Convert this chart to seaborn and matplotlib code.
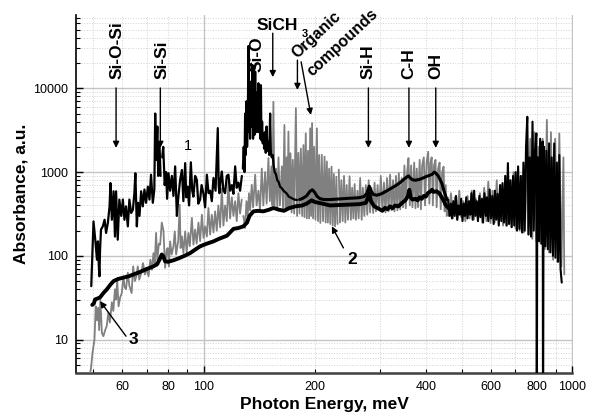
import numpy as np
import pandas as pd
import matplotlib
matplotlib.use("Agg")
import matplotlib.pyplot as plt
import matplotlib.ticker as mticker
import seaborn as sns

# ---------------- data (photon energy meV, absorbance a.u.) ----------------
# curve 1 (thin black, noisy)
black_low = [(49.5, 43.5), (50.2, 258), (50.8, 149), (51.3, 90), (51.6, 149), (51.9, 75), (52.1, 57),
             (52.3, 119), (52.6, 206), (53.2, 225), (53.8, 270), (54.3, 188), (54.9, 247), (55.5, 390),
             (55.8, 740), (56.3, 270), (56.9, 590), (57.4, 170), (57.8, 590), (58.4, 156), (59.0, 470),
             (59.7, 300), (60.3, 470), (60.9, 270), (61.5, 390), (62.2, 225), (62.8, 470), (63.5, 325),
             (64.2, 356), (64.8, 560), (65.2, 970), (65.8, 225), (66.3, 430), (66.9, 300), (67.6, 590),
             (68.3, 390), (69.0, 620), (69.7, 430), (70.5, 670), (71.2, 470), (71.9, 930), (72.7, 430),
             (73.4, 620), (73.8, 5000), (74.2, 1400), (74.8, 3500), (75.2, 900), (75.8, 2200), (76.3, 900)]
black_mid = [(77.1, 1500), (77.6, 2000), (78.3, 700), (79.0, 1000), (79.5, 480), (80.2, 970), (81.0, 600),
             (81.9, 900), (82.7, 520), (83.6, 1170), (84.5, 300), (85.3, 510), (86.2, 800), (87.2, 1060),
             (88.0, 450), (89.0, 1280), (89.6, 500), (90.3, 670), (91.2, 400), (92.2, 1310), (93.0, 600),
             (93.7, 510), (94.7, 900), (95.7, 810), (96.6, 420), (97.7, 470), (98.6, 700), (99.7, 560),
             (100.8, 380), (101.9, 930), (103.0, 560), (104.0, 600), (105.1, 450), (106.2, 850),
             (107.6, 600), (109.1, 3350), (109.7, 700), (110.2, 560), (111.0, 800), (111.9, 1015),
             (113.0, 600), (114.2, 560), (115.4, 900), (116.6, 930), (117.8, 600), (119.1, 700),
             (120.3, 550), (121.6, 1170), (122.8, 650), (124.1, 750), (125.4, 600), (126.8, 900)]
black_sio = [(127.6, 1100), (128.3, 2000), (128.9, 1000), (129.4, 5000), (129.9, 1600), (130.5, 7000),
             (131.0, 2000), (131.6, 4000), (132.1, 32000), (132.6, 3000), (133.0, 9000), (133.5, 2500),
             (134.1, 12000), (134.6, 3500), (135.0, 6000), (135.5, 19000), (136.0, 2500), (136.5, 5000),
             (136.9, 7300), (137.3, 2800), (137.8, 15800), (138.3, 3500), (138.8, 6000), (139.2, 3000),
             (139.7, 9000), (140.2, 4000), (140.6, 11500), (141.1, 3000), (141.6, 5500), (142.2, 2500),
             (142.8, 10900), (143.3, 2400), (143.9, 4000), (144.5, 2200), (145.1, 2900), (145.8, 1900),
             (146.5, 3000), (147.2, 1700), (148.0, 3500), (148.7, 1800), (149.5, 2300), (150.4, 1600),
             (151.3, 5000), (152.0, 1700), (152.8, 1500), (153.7, 1600), (154.6, 1200), (155.6, 1000),
             (156.8, 950), (158.2, 800), (159.6, 760), (161.0, 670), (162.8, 640), (165.0, 590),
             (167.5, 560), (170.0, 510), (173.0, 490), (176.0, 470), (179.0, 465)]
black_band = [(182, 470), (186, 490), (190, 520), (194, 590), (197, 615), (200, 570), (203, 510), (207, 480),
              (212, 470), (220, 470), (228, 475), (236, 480), (245, 485), (255, 490), (264, 495), (272, 510),
              (277, 560), (281, 680), (284, 600), (288, 540), (295, 530), (303, 550), (312, 590), (320, 630),
              (328, 670), (334, 705), (342, 760), (350, 830), (356, 880), (359, 900), (363, 850), (368, 810),
              (375, 800), (385, 820), (393, 850), (400, 880), (408, 910), (416, 940), (422, 1000), (426, 970),
              (432, 900), (437, 820), (442, 740), (447, 620), (452, 530), (456, 470)]
black_high = [(460, 470), (464, 300), (468, 420), (471, 280), (475, 450), (479, 300), (483, 520), (487, 270),
              (491, 400), (495, 310), (499, 480), (503, 260), (507, 420), (511, 300), (515, 500), (519, 280),
              (524, 450), (528, 310), (532, 560), (536, 270), (541, 600), (545, 300), (550, 450), (554, 260),
              (559, 520), (563, 290), (568, 480), (572, 250), (577, 560), (582, 300), (586, 500), (591, 260),
              (596, 620), (601, 280), (606, 520), (611, 240), (616, 600), (621, 270), (626, 550), (631, 230),
              (636, 700), (641, 260), (646, 740), (652, 250), (657, 900), (662, 230), (668, 1280), (673, 240),
              (679, 800), (684, 220), (690, 900), (695, 230), (701, 1000), (707, 200), (712, 1170), (718, 210),
              (724, 900), (730, 190), (736, 1300), (742, 200), (748, 2000), (754, 4570), (760, 180),
              (766, 1500), (772, 170), (779, 4000), (785, 200), (791, 1800), (798, 2900), (800, 0.3),
              (802, 160), (806, 1500), (811, 150), (817, 2500), (824, 140), (830, 2320), (832, 0.3),
              (834, 150), (837, 2000), (844, 130), (850, 1800), (857, 120), (864, 2200), (871, 110),
              (878, 1500), (885, 100), (892, 2200), (899, 95), (907, 1300), (914, 85), (921, 1600),
              (928, 70), (935, 48)]

# curve 2 (grey, noisy)
grey_low = [(48.5, 3.0), (49.4, 4.5), (49.9, 7.0), (50.5, 10), (50.9, 25), (51.3, 17), (51.7, 24), (52.0, 13),
            (52.4, 30), (52.9, 12), (53.4, 11), (54.0, 13), (54.5, 14.5), (55.1, 21), (55.6, 16), (56.3, 28),
            (56.8, 22), (57.4, 40), (57.8, 30), (58.2, 52), (58.7, 25), (59.3, 32), (59.9, 36), (60.5, 57),
            (61.0, 42), (61.5, 40), (62.2, 63), (62.8, 44), (63.7, 36), (64.3, 75), (65.0, 50), (65.6, 57),
            (66.2, 75), (66.8, 52), (67.6, 62), (68.4, 82), (69.2, 60), (70.0, 70), (70.8, 57), (71.6, 90),
            (72.3, 68), (73.0, 108), (73.6, 80), (74.2, 188), (74.8, 90), (75.5, 140), (76.1, 136),
            (76.9, 250), (77.7, 200), (78.5, 72), (79.3, 119), (79.8, 124), (80.4, 75), (81.0, 149),
            (81.8, 104), (82.7, 130), (83.4, 196), (84.1, 104), (85.2, 150), (86.0, 408), (86.5, 124),
            (87.2, 171), (88.0, 108), (89.0, 196), (89.8, 110), (90.8, 188), (91.6, 130), (92.8, 284),
            (93.7, 136), (94.7, 206), (95.6, 140), (96.7, 250), (97.7, 150), (98.8, 310), (99.8, 164),
            (100.8, 225), (101.9, 170), (102.9, 373), (104.0, 180), (105.1, 310), (106.2, 190),
            (107.3, 340), (108.4, 200), (109.5, 400), (110.7, 220), (111.9, 645), (113.0, 230),
            (114.2, 400), (115.4, 260), (116.6, 770), (117.8, 280), (119.1, 500), (120.3, 300),
            (121.6, 450), (122.8, 260), (124.1, 560), (125.4, 320), (126.7, 470)]
grey_org = [(128.0, 300), (129.4, 215), (130.5, 450), (131.5, 300), (132.6, 560), (133.5, 350), (134.9, 705),
            (136.0, 380), (137.8, 930), (139.0, 400), (140.6, 600), (142.0, 350), (143.6, 1100), (145.0, 400),
            (146.6, 1000), (148.0, 420), (149.7, 1470), (151.0, 450), (152.5, 1170), (153.5, 400),
            (154.4, 6900), (155.5, 400), (157.0, 1100), (158.2, 380), (159.4, 1500), (160.8, 400),
            (162.8, 1170), (164.0, 360), (165.4, 3650), (166.5, 380), (167.8, 1500), (168.6, 350),
            (169.6, 3050), (170.6, 380), (171.8, 1680), (173.0, 330), (174.3, 1400), (175.8, 320),
            (177.7, 5800), (179.0, 300), (180.5, 1700), (181.8, 320), (183.3, 1900), (184.8, 300),
            (186.3, 2100), (187.5, 290), (189.0, 2900), (190.3, 280), (191.7, 1800), (193.0, 280),
            (194.3, 3330), (195.4, 300), (196.6, 3850), (197.8, 280), (199.2, 2000), (200.8, 270),
            (202.6, 3330), (204.0, 260), (205.5, 1600), (207.0, 247), (208.9, 1610), (210.5, 260),
            (212.5, 1530), (214.0, 250), (215.6, 1340), (217.0, 250), (218.7, 1100), (220.3, 240),
            (222.0, 1160), (223.7, 230), (225.3, 950), (227.0, 225), (228.8, 880), (230.5, 240)]
grey_band = [(232.3, 1070), (234, 250), (236, 800), (238, 260), (240, 900), (242, 250), (244, 700), (246, 270),
             (248.5, 890), (250.5, 270), (252.5, 650), (254.5, 280), (256.5, 720), (258.5, 270), (261, 600),
             (263, 280), (265.5, 850), (268, 270), (270, 650), (272.5, 300), (275, 700), (277.5, 310),
             (280, 800), (282.5, 330), (285, 650), (288, 325), (290.5, 750), (293, 340), (296, 700),
             (299, 350), (302, 900), (305, 340), (308, 750), (311, 330), (314, 850), (317, 340), (320, 930),
             (323, 350), (326, 800), (329, 340), (332, 900), (335, 350), (338, 970), (341, 360), (344, 850),
             (347, 380), (350, 1200), (353, 370), (356, 1000), (359, 1470), (362, 400), (365, 1200),
             (368, 380), (372, 1300), (375, 370), (378, 1100), (381, 380), (385, 1400), (388, 360),
             (391, 1200), (395, 1500), (398, 400), (402, 1300), (406, 1750), (409, 420), (412, 1300),
             (415, 1500), (418, 400), (421, 1200), (425, 1400), (428, 380), (432, 1100), (436, 1300),
             (439, 360), (443, 1000), (447, 1160), (450, 340), (453, 700), (456, 300), (459, 500)]
grey_high = [(462, 300), (468, 560), (474, 280), (480, 500), (486, 270), (493, 600), (499, 290), (506, 450),
             (512, 260), (519, 520), (526, 280), (533, 600), (540, 270), (547, 480), (554, 260), (561, 560),
             (569, 250), (576, 650), (584, 260), (591, 770), (599, 247), (607, 600), (615, 250), (623, 800),
             (631, 240), (640, 700), (648, 230), (657, 900), (665, 230), (674, 800), (683, 220), (692, 1000),
             (701, 210), (710, 1060), (719, 200), (729, 900), (738, 190), (748, 1500), (758, 180),
             (768, 2500), (778, 160), (788, 3000), (798, 150), (809, 2000), (819, 140), (830, 2500),
             (841, 120), (852, 4200), (863, 110), (874, 3000), (886, 90), (897, 2500), (909, 85),
             (921, 2900), (933, 75), (945, 1500), (950, 60)]

# curve 3 (thick black, smooth)
smooth_3 = [(49.8, 26), (50.3, 27), (50.7, 30.2), (51.5, 31), (52.3, 32), (53.4, 36), (54.6, 40), (55.7, 45),
            (56.9, 50), (58.5, 53), (60.5, 55), (62.5, 57), (64.4, 60), (67.0, 64), (70.1, 70), (72.5, 74),
            (74.6, 79), (75.8, 90), (76.9, 104), (77.7, 98), (78.5, 86), (80.0, 85), (83.0, 89), (86.2, 95),
            (89.0, 101), (91.8, 108), (94.5, 118), (97.7, 130), (101.0, 138), (106.2, 149), (110.0, 160),
            (115.5, 174), (118.0, 192), (120.3, 210), (124.0, 215), (128.0, 225), (131.0, 250), (133.0, 300),
            (136.3, 340), (140.0, 345), (145.0, 340), (150.0, 355), (154.5, 373), (160.0, 355), (165.0, 345),
            (170.0, 370), (177.0, 390), (185.0, 400), (190.0, 420), (196.0, 460), (200.0, 440), (210.0, 420),
            (220.0, 400), (235.0, 405), (250.0, 410), (265.0, 415), (275.0, 430), (279.0, 500), (281.0, 560),
            (284.0, 450), (290.0, 390), (300.0, 360), (305.0, 345), (310.0, 375), (315.0, 360), (320.0, 390),
            (325.0, 370), (330.0, 400), (337.0, 390), (345.0, 430), (352.0, 460), (358.0, 520), (361.0, 615),
            (364.0, 500), (368.0, 470), (375.0, 480), (380.0, 460), (385.0, 500), (390.0, 480), (395.0, 520),
            (400.0, 510), (405.0, 560), (412.0, 590), (416.0, 615), (420.0, 580), (428.0, 590), (435.0, 560),
            (442.0, 500), (447.0, 460), (452.0, 410), (456.0, 390), (465.0, 360), (475.0, 350)]

x_major_labels = [100, 1000]
x_minor_labels = [60, 80, 200, 400, 600, 800]


def frame(pairs):
    return pd.DataFrame(pairs, columns=["energy", "absorbance"])


# ---------------- figure ----------------
sns.set_theme(style="ticks")
plt.rcParams["font.family"] = ["Liberation Sans", "DejaVu Sans"]
plt.rcParams["text.color"] = "black"
plt.rcParams["axes.labelcolor"] = "black"
plt.rcParams["xtick.color"] = "black"
plt.rcParams["ytick.color"] = "black"

fig = plt.figure(figsize=(5.92, 4.20), dpi=100)
ax = fig.add_axes([76 / 592, 1 - 373 / 420, (572.5 - 76) / 592, (373 - 15) / 420])
ax.set_xscale("log")
ax.set_yscale("log")

GREY = "#808080"
for seg in (grey_low, grey_org, grey_band, grey_high):
    sns.lineplot(data=frame(seg), x="energy", y="absorbance", sort=False, estimator=None,
                 color=GREY, lw=1.3, ax=ax, zorder=3)
for seg, w in ((black_low, 1.6), (black_mid, 1.6), (black_sio, 1.6), (black_band, 2.2), (black_high, 1.5)):
    sns.lineplot(data=frame(seg), x="energy", y="absorbance", sort=False, estimator=None,
                 color="black", lw=w, ax=ax, zorder=4)
sns.lineplot(data=frame(smooth_3), x="energy", y="absorbance", sort=False, estimator=None,
             color="black", lw=2.8, ax=ax, zorder=5)

ax.set_xlim(45, 1000)
ax.set_ylim(4, 75000)

# ticks & grid
ax.xaxis.set_major_locator(mticker.LogLocator(base=10))
ax.xaxis.set_minor_locator(mticker.LogLocator(base=10, subs=np.arange(2, 10)))
ax.xaxis.set_major_formatter(mticker.FuncFormatter(
    lambda v, p: str(int(round(v))) if int(round(v)) in x_major_labels else ""))
ax.xaxis.set_minor_formatter(mticker.FuncFormatter(
    lambda v, p: str(int(round(v))) if int(round(v)) in x_minor_labels else ""))
ax.yaxis.set_major_locator(mticker.LogLocator(base=10))
ax.yaxis.set_minor_locator(mticker.LogLocator(base=10, subs=np.arange(2, 10)))
ax.yaxis.set_major_formatter(mticker.FuncFormatter(lambda v, p: str(int(round(v)))))
ax.yaxis.set_minor_formatter(mticker.NullFormatter())

ax.tick_params(which="both", direction="in", labelsize=9, colors="black", pad=6)
ax.tick_params(which="major", length=5, width=1)
ax.tick_params(which="minor", length=3, width=0.8)
ax.grid(which="major", color="#c4c4c4", lw=1.0, ls="-", zorder=0)
ax.grid(which="minor", color="#d2d2d2", lw=0.7, ls=":", zorder=0)

for s in ("top", "right"):
    ax.spines[s].set_visible(False)
ax.spines["left"].set_color("black")
ax.spines["left"].set_linewidth(1.2)
ax.spines["bottom"].set_color("#404040")
ax.spines["bottom"].set_linewidth(1.8)

ax.set_xlabel("Photon Energy, meV", fontsize=12.5, fontweight="bold", labelpad=3, color="black")
ax.set_ylabel("Absorbance, a.u.", fontsize=12.5, fontweight="bold", labelpad=3, color="black")

# ---------------- annotations ----------------
arrow = dict(arrowstyle="-|>", lw=1.0, color="black", mutation_scale=9, shrinkA=0, shrinkB=0)
FS = 12.5

for lab, ex_t, ex_a in [("Si-O-Si", 58.1, 57.8), ("Si-Si", 77.2, 76.2), ("Si-H", 279.5, 279.5),
                        ("C-H", 358.8, 360.0), ("OH", 425.7, 425.7)]:
    ax.text(ex_t, 13000, lab, rotation=90, ha="center", va="bottom", fontsize=FS,
            fontweight="bold", color="black", zorder=6)
    ax.annotate("", xy=(ex_a, 1945), xytext=(ex_a, 10100), arrowprops=arrow, zorder=6)

ax.text(139.8, 15600, "Si-O", rotation=90, ha="center", va="bottom", fontsize=FS,
        fontweight="bold", color="black", zorder=6)

ax.text(138.6, 49400, "SiCH", ha="left", va="baseline", fontsize=FS, fontweight="bold",
        color="black", zorder=6)
ax.text(184.0, 41000, "3", ha="left", va="baseline", fontsize=8, fontweight="bold",
        color="black", zorder=6)
ax.annotate("", xy=(153.8, 13600), xytext=(153.8, 45500), arrowprops=arrow, zorder=6)

ax.text(201.6, 43200, "Organic", rotation=43, ha="center", va="center", fontsize=11.5,
        fontweight="bold", color="black", zorder=6)
ax.text(237.9, 35100, "compounds", rotation=43, ha="center", va="center", fontsize=11.5,
        fontweight="bold", color="black", zorder=6)
ax.annotate("", xy=(179.4, 9560), xytext=(179.4, 21700), arrowprops=arrow, zorder=6)
ax.annotate("", xy=(195.1, 4810), xytext=(183.6, 20700), arrowprops=arrow, zorder=6)

ax.text(90.8, 2073, "1", ha="center", va="center", fontsize=10.5, color="black", zorder=6)
ax.text(252, 90.4, "2", ha="center", va="center", fontsize=12.5, fontweight="bold",
        color="black", zorder=6)
ax.annotate("", xy=(222.4, 225), xytext=(239.1, 124.5), arrowprops=arrow, zorder=6)
ax.text(64.4, 10.1, "3", ha="center", va="center", fontsize=12.5, fontweight="bold",
        color="black", zorder=6)
ax.annotate("", xy=(52.3, 28.8), xytext=(61.5, 11.0), arrowprops=arrow, zorder=6)

fig.savefig("out.png", dpi=100)
